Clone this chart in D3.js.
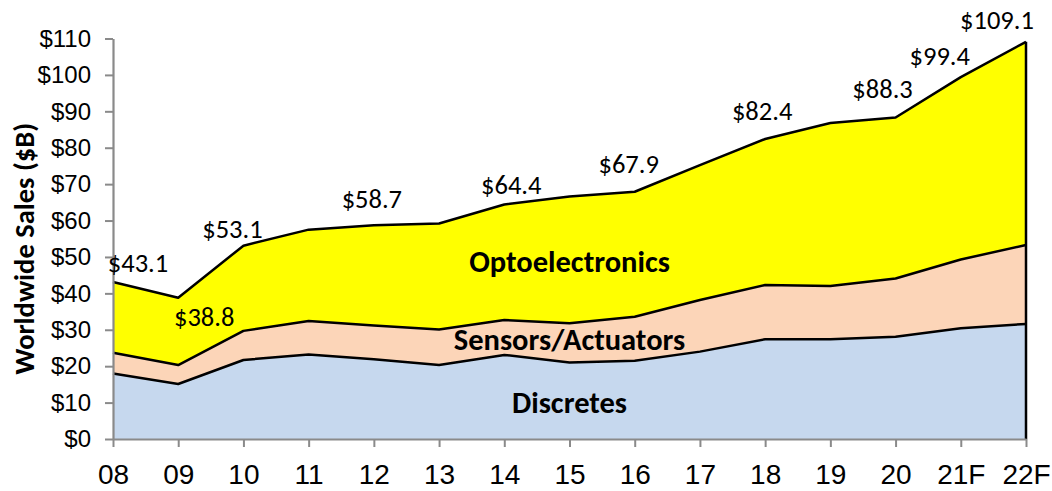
<!DOCTYPE html>
<html>
<head>
<meta charset="utf-8">
<script src="https://cdn.jsdelivr.net/npm/d3@7"></script>
<style>
  body { margin: 0; background: #fff; }
  svg { display: block; font-family: Carlito, Calibri, Lato, sans-serif; }
</style>
</head>
<body>
<div id="chart"></div>
<script>
// Worldwide O-S-D sales, $B
const years = ['08', '09', '10', '11', '12', '13', '14', '15', '16', '17', '18', '19', '20', '21F', '22F']
const discretes = [18.0, 15.1, 21.7, 23.2, 21.9, 20.3, 23.1, 21.0, 21.5, 24.0, 27.4, 27.4, 28.1, 30.4, 31.6]
const sensors = [5.7, 5.2, 8.0, 9.2, 9.3, 9.8, 9.6, 10.8, 12.1, 14.2, 14.9, 14.6, 16.0, 18.9, 21.7]
const opto = [19.4, 18.5, 23.4, 25.1, 27.5, 29.1, 31.7, 34.8, 34.3, 37.0, 40.1, 44.8, 44.2, 50.1, 55.8]
// total labels printed on the chart (null = no label)
const totalLabels = [43.1, 38.8, 53.1, null, 58.7, null, 64.4, null, 67.9, null, 82.4, null, 88.3, 99.4, 109.1]
const yTicks = [0, 10, 20, 30, 40, 50, 60, 70, 80, 90, 100, 110]

const width = 1052
const height = 491
const margin = { top: 38.5, right: 26, bottom: 52, left: 113 }

const keys = ['discretes', 'sensors', 'opto']
const colours = { discretes: '#c6d8ee', sensors: '#fcd5b8', opto: '#ffff00' }
const layerNames = { discretes: 'Discretes', sensors: 'Sensors/Actuators', opto: 'Optoelectronics' }
// where each layer name sits: category + value on the y scale
const layerLabelAt = { discretes: ['15', 10.2], sensors: ['15', 27.4], opto: ['15', 48.9] }
// small nudges Excel applied to the total labels [dx, dy]
const nudge = {
  '08': [25, -10], '09': [26, 28], '10': [-11, -8], '12': [-2, -17], '14': [7, -11],
  '16': [-6, -19], '18': [-3, -19], '20': [-13, -20], '21F': [-21, -12], '22F': [-29, -13]
}

const rows = years.map((y, i) => ({
  year: y,
  discretes: discretes[i],
  sensors: sensors[i],
  opto: opto[i]
}))
const stacked = d3.stack().keys(keys)(rows)

const x = d3.scalePoint()
  .domain(years)
  .range([margin.left, width - margin.right])

const y = d3.scaleLinear()
  .domain([0, 110])
  .range([height - margin.bottom, margin.top])

const svg = d3.select('#chart').append('svg')
  .attr('width', width)
  .attr('height', height)

const area = d3.area()
  .x(d => x(d.data.year))
  .y0(d => y(d[0]))
  .y1(d => y(d[1]))

const topLine = d3.line()
  .x(d => x(d.data.year))
  .y(d => y(d[1]))

// Filled layers
svg.append('g')
  .attr('class', 'layers')
  .selectAll('path')
  .data(stacked)
  .join('path')
  .attr('d', area)
  .attr('fill', d => colours[d.key])

// Black outline on top of each layer
svg.append('g')
  .attr('class', 'outlines')
  .selectAll('path')
  .data(stacked)
  .join('path')
  .attr('d', topLine)
  .attr('fill', 'none')
  .attr('stroke', '#000')
  .attr('stroke-width', 2.5)
  .attr('stroke-linejoin', 'round')

// right hand edge of the stack
const topLayer = stacked[stacked.length - 1]
const last = topLayer[years.length - 1]
svg.append('line')
  .attr('x1', x(years[years.length - 1]))
  .attr('x2', x(years[years.length - 1]))
  .attr('y1', y(0))
  .attr('y2', y(last[1]))
  .attr('stroke', '#000')
  .attr('stroke-width', 2.5)

// Axes
const yAxis = svg.append('g')
  .attr('transform', `translate(${margin.left},0)`)
  .call(d3.axisLeft(y).tickValues(yTicks).tickFormat(d => `$${d}`).tickSize(8).tickSizeOuter(0).tickPadding(14))

const xAxis = svg.append('g')
  .attr('transform', `translate(0,${y(0)})`)
  .call(d3.axisBottom(x).tickSize(8).tickSizeOuter(0).tickPadding(17))

;[yAxis, xAxis].forEach(ax => {
  ax.select('.domain').attr('stroke', '#8a8a8a').attr('stroke-width', 2.2)
  ax.selectAll('.tick line').attr('stroke', '#8a8a8a').attr('stroke-width', 2)
  ax.selectAll('.tick text').attr('fill', '#000').attr('font-family', null)
})
yAxis.selectAll('.tick text').attr('font-size', 24)
xAxis.selectAll('.tick text').attr('font-size', 28)

// Axis title
svg.append('text')
  .attr('transform', `translate(34,${(y(0) + y(110)) / 2 + 10}) rotate(-90)`)
  .attr('text-anchor', 'middle')
  .attr('font-size', 28.5)
  .attr('font-weight', 'bold')
  .text('Worldwide Sales ($B)')

// Total labels
svg.append('g')
  .attr('class', 'totals')
  .selectAll('text')
  .data(years.map((yr, i) => ({ yr, label: totalLabels[i], top: topLayer[i][1] })).filter(d => d.label != null))
  .join('text')
  .attr('x', d => x(d.yr) + (nudge[d.yr] || [0, 0])[0])
  .attr('y', d => y(d.top) + (nudge[d.yr] || [0, -12])[1])
  .attr('text-anchor', 'middle')
  .attr('font-size', 26.5)
  .text(d => `$${d.label.toFixed(1)}`)

// Layer names
svg.append('g')
  .attr('class', 'layer-names')
  .selectAll('text')
  .data(keys)
  .join('text')
  .attr('x', k => x(layerLabelAt[k][0]))
  .attr('y', k => y(layerLabelAt[k][1]))
  .attr('dy', '0.35em')
  .attr('text-anchor', 'middle')
  .attr('font-size', 30.5)
  .attr('font-weight', 'bold')
  .text(k => layerNames[k])
</script>
</body>
</html>
